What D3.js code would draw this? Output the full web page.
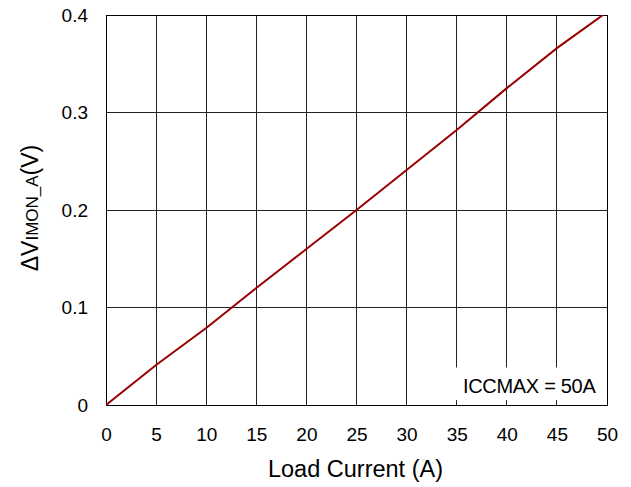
<!DOCTYPE html>
<html>
<head>
<meta charset="utf-8">
<script src="https://cdn.jsdelivr.net/npm/d3@7"></script>
<style>
  html, body { margin: 0; padding: 0; background: #fff; }
  svg { display: block; }
  text { font-family: "Liberation Sans", Arial, sans-serif; fill: #000; }
</style>
</head>
<body>
<svg id="chart" width="631" height="487"></svg>
<script>
// Load current (A) and the resulting IMON_A voltage delta (V)
const loadCurrent = [0, 5, 10, 15, 20, 25, 30, 35, 40, 45, 50];
const deltaVimon = [0, 0.041, 0.079, 0.12, 0.16, 0.2, 0.241, 0.282, 0.325, 0.366, 0.403];
const xTicks = [0, 5, 10, 15, 20, 25, 30, 35, 40, 45, 50];
const yTicks = [0, 0.1, 0.2, 0.3, 0.4];
const noteText = "ICCMAX = 50A";

const W = 631, H = 487;
const margin = { top: 15, right: 24, bottom: 82, left: 106 };
const iw = W - margin.left - margin.right;
const ih = H - margin.top - margin.bottom;

const svg = d3.select("#chart");
const g = svg.append("g").attr("transform", `translate(${margin.left},${margin.top})`);

const x = d3.scaleLinear().domain([0, 50]).range([0, iw]);
const y = d3.scaleLinear().domain([0, 0.4]).range([ih, 0]);

// grid
g.append("g").selectAll("line").data(xTicks).join("line")
  .attr("x1", d => x(d)).attr("x2", d => x(d))
  .attr("y1", 0).attr("y2", ih)
  .attr("stroke", "#222").attr("stroke-width", 1)
  .attr("shape-rendering", "crispEdges");
g.append("g").selectAll("line").data(yTicks).join("line")
  .attr("x1", 0).attr("x2", iw)
  .attr("y1", d => y(d)).attr("y2", d => y(d))
  .attr("stroke", "#222").attr("stroke-width", 1)
  .attr("shape-rendering", "crispEdges");

// note box covering the grid
const noteG = g.append("g");
noteG.append("rect")
  .attr("x", x(34.9)).attr("y", y(0.0385))
  .attr("width", x(50) - x(34.9)).attr("height", y(0.005) - y(0.0385))
  .attr("fill", "#fff");
noteG.append("text")
  .attr("x", x(48.85)).attr("y", y(0.0128))
  .attr("text-anchor", "end")
  .attr("font-size", 20)
  .attr("letter-spacing", -0.3)
  .text(noteText);

// frame
g.append("rect").attr("x", 0).attr("y", 0).attr("width", iw).attr("height", ih)
  .attr("fill", "none").attr("stroke", "#000").attr("stroke-width", 1)
  .attr("shape-rendering", "crispEdges");

// axes (labels only)
const xAxis = g.append("g").attr("transform", `translate(0,${ih})`)
  .call(d3.axisBottom(x).tickValues(xTicks).tickSize(0).tickPadding(23).tickFormat(d3.format("d")));
const yAxis = g.append("g")
  .call(d3.axisLeft(y).tickValues(yTicks).tickSize(0).tickPadding(18).tickFormat(d => d === 0 ? "0" : d3.format(".1f")(d)));
[xAxis, yAxis].forEach(a => {
  a.select(".domain").remove();
  a.selectAll("text").attr("font-size", 19).attr("font-family", "'Liberation Sans', Arial, sans-serif").attr("fill", "#000");
});

// data line
g.append("clipPath").attr("id", "plotClip")
  .append("rect").attr("x", 0).attr("y", 0).attr("width", iw).attr("height", ih);
const pts = loadCurrent.map((c, i) => [c, deltaVimon[i]]);
g.append("path")
  .datum(pts)
  .attr("clip-path", "url(#plotClip)")
  .attr("fill", "none")
  .attr("stroke", "#990000")
  .attr("stroke-width", 2)
  .attr("d", d3.line().x(d => x(d[0])).y(d => y(d[1])));

// axis titles
svg.append("text")
  .attr("x", margin.left + iw / 2 - 1).attr("y", 477)
  .attr("text-anchor", "middle")
  .attr("font-size", 23.5)
  .text("Load Current (A)");

const yt = svg.append("text")
  .attr("transform", `translate(38,208) rotate(-90)`)
  .attr("text-anchor", "middle")
  .attr("font-size", 23);
yt.append("tspan").text("\u0394V");
yt.append("tspan").attr("font-size", 17).text("IMON_A");
yt.append("tspan").text("(V)");
</script>
</body>
</html>
